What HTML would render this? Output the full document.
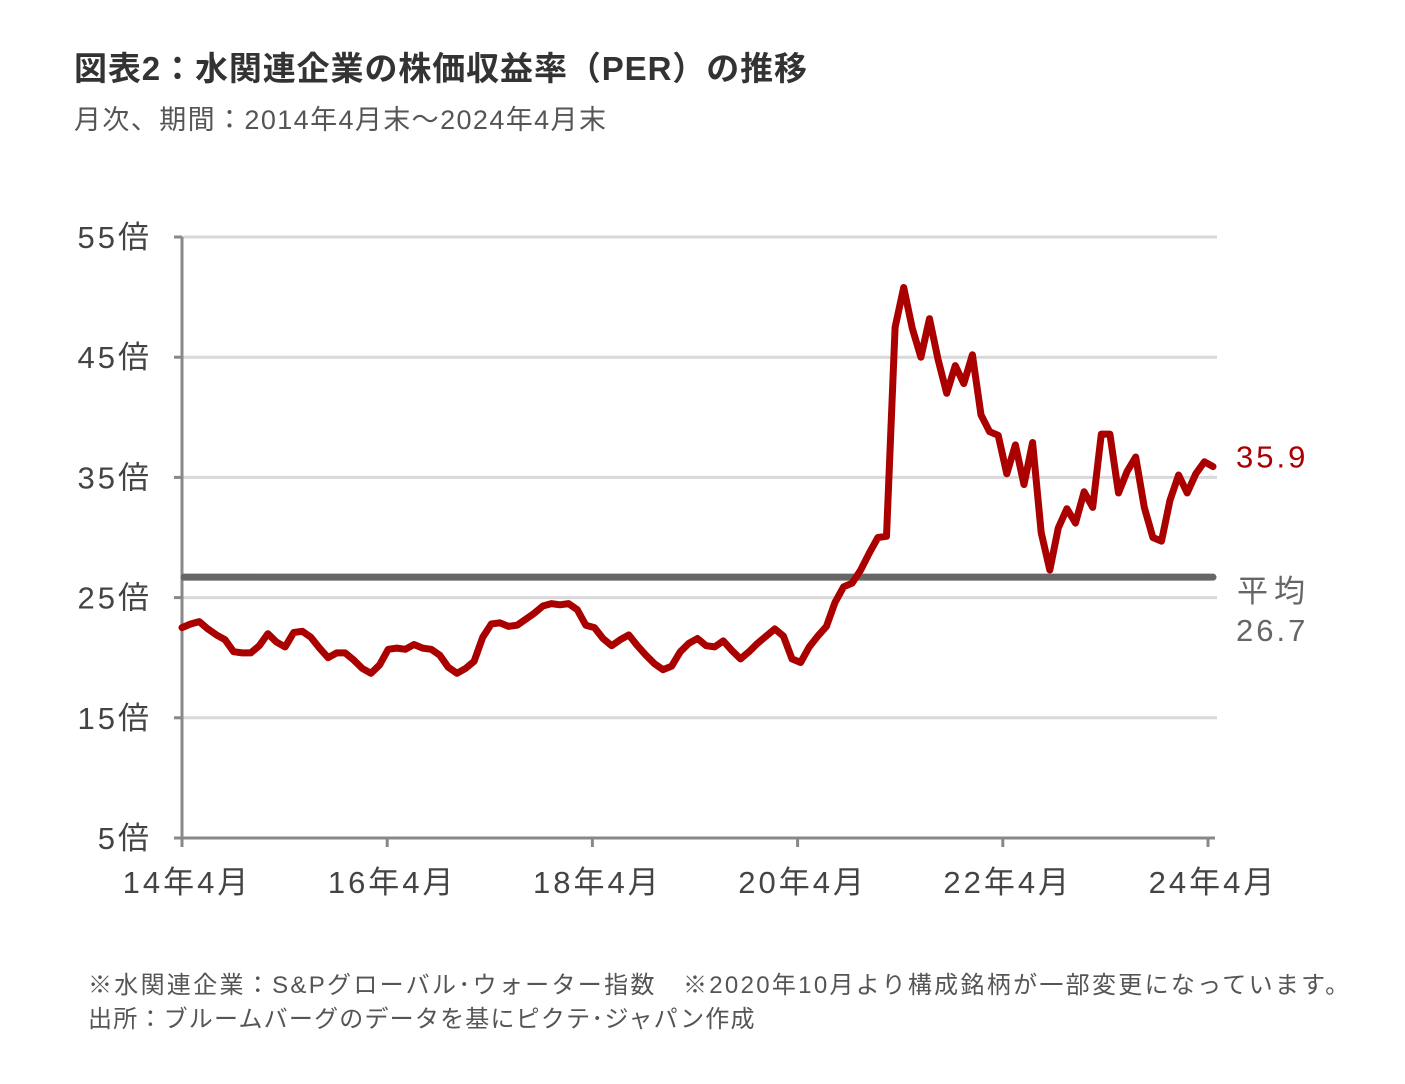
<!DOCTYPE html>
<html><head><meta charset="utf-8">
<style>
body{margin:0;background:#fff;width:1405px;height:1084px;overflow:hidden;font-family:"Liberation Sans","Noto Sans CJK JP",sans-serif;}
svg{position:absolute;left:0;top:0}
text{font-family:"Liberation Sans","Noto Sans CJK JP",sans-serif;}
</style></head>
<body>
<svg id="chart" width="1405" height="1084">
<text x="74" y="80" font-size="33" font-weight="bold" fill="#333" letter-spacing="0.9">図表2：水関連企業の株価収益率（PER）の推移</text>
<text x="74" y="129" font-size="27" fill="#555" letter-spacing="1.4">月次、期間：2014年4月末～2024年4月末</text>
<g id="grid"></g><g id="axes"></g><g id="marks"></g>
<text x="88" y="993" font-size="24" fill="#555" letter-spacing="2.3">※水関連企業：S&amp;Pグローバル･ウォーター指数　※2020年10月より構成銘柄が一部変更になっています。</text>
<text x="88" y="1027" font-size="24" fill="#555" letter-spacing="1.2">出所：ブルームバーグのデータを基にピクテ･ジャパン作成</text>
</svg>
<script>
const yTicks=[5,15,25,35,45,55];
const xTickLabels=["14年4月","16年4月","18年4月","20年4月","22年4月","24年4月"];
const xTickIndex=[0,24,48,72,96,120];
const average=26.7;
const lastLabel="35.9";
const perValues=[22.5,22.8,23.0,22.4,21.9,21.5,20.5,20.4,20.4,21.0,22.0,21.3,20.9,22.1,22.2,21.7,20.8,20.0,20.4,20.4,19.8,19.1,18.7,19.4,20.7,20.8,20.7,21.1,20.8,20.7,20.2,19.2,18.7,19.1,19.7,21.7,22.8,22.9,22.6,22.7,23.2,23.7,24.3,24.5,24.4,24.5,24.0,22.7,22.5,21.6,21.0,21.5,21.9,21.0,20.2,19.5,19.0,19.3,20.5,21.2,21.6,21.0,20.9,21.4,20.6,19.9,20.5,21.2,21.8,22.4,21.8,19.9,19.6,20.9,21.8,22.6,24.6,25.9,26.2,27.3,28.7,30.0,30.1,47.5,50.8,47.4,45.0,48.2,44.8,42.0,44.3,42.8,45.2,40.2,38.8,38.5,35.3,37.7,34.4,37.9,30.4,27.3,30.8,32.4,31.2,33.8,32.5,38.6,38.6,33.7,35.5,36.7,32.5,30.0,29.7,33.1,35.2,33.7,35.3,36.3,35.9];

const NS="http://www.w3.org/2000/svg";
const x0=182,x1=1213,yTop=237,yBot=838;
const nMax=120;
function xs(i){return x0+(x1-x0)*i/nMax;}
function ys(v){return yBot-(v-5)/(55-5)*(yBot-yTop);}
function mk(tag,attrs,parent){const e=document.createElementNS(NS,tag);for(const k in attrs)e.setAttribute(k,attrs[k]);parent.appendChild(e);return e;}
const grid=document.getElementById('grid'),axes=document.getElementById('axes'),marks=document.getElementById('marks');
yTicks.forEach(v=>{
  if(v>5){const g=mk('line',{x1:x0,x2:1217,y1:ys(v),y2:ys(v),stroke:'#d9d9d9','stroke-width':3},grid);
  
  }
  const t=mk('line',{x1:x0-8,x2:x0,y1:ys(v),y2:ys(v),stroke:'#888','stroke-width':3},axes);
  
  
  const l=mk('text',{x:152,y:ys(v)+11,'font-size':31,fill:'#444','text-anchor':'end','letter-spacing':'3'},axes);
  l.textContent=v+'倍';
  
  
});
const ya=mk('line',{x1:x0,x2:x0,y1:yTop,y2:yBot,stroke:'#888','stroke-width':3},axes);


const xa=mk('line',{x1:x0,x2:1215,y1:yBot,y2:yBot,stroke:'#888','stroke-width':3},axes);


xTickIndex.forEach((idx,k)=>{
  const xp=182+(1208-182)*idx/nMax;
  const t=mk('line',{x1:xp,x2:xp,y1:yBot,y2:yBot+9,stroke:'#888','stroke-width':3},axes);
  
  
  const l=mk('text',{x:xp+5,y:893,'font-size':31,fill:'#444','text-anchor':'middle','letter-spacing':'3'},axes);
  l.textContent=xTickLabels[k];
  
  
});
const av=mk('line',{x1:x0+2,x2:1213,y1:ys(average),y2:ys(average),stroke:'#666','stroke-width':7,'stroke-linecap':'round'},marks);


const pts=perValues.map((v,i)=>xs(i).toFixed(1)+','+ys(v).toFixed(1)).join(' ');
const pl=mk('polyline',{points:pts,fill:'none',stroke:'#aa0000','stroke-width':7,'stroke-linejoin':'round','stroke-linecap':'round'},marks);


const ll=mk('text',{x:1236,y:ys(perValues[perValues.length-1])+1,'font-size':31,fill:'#aa0000','letter-spacing':'3'},marks);
ll.textContent=lastLabel;


const a1=mk('text',{x:1237,y:ys(average)+25,'font-size':31,fill:'#666','letter-spacing':'6'},marks);
a1.textContent='平均';


const a2=mk('text',{x:1236,y:ys(average)+64,'font-size':31,fill:'#666','letter-spacing':'3'},marks);
a2.textContent=average.toFixed(1);


</script>
</body></html>
